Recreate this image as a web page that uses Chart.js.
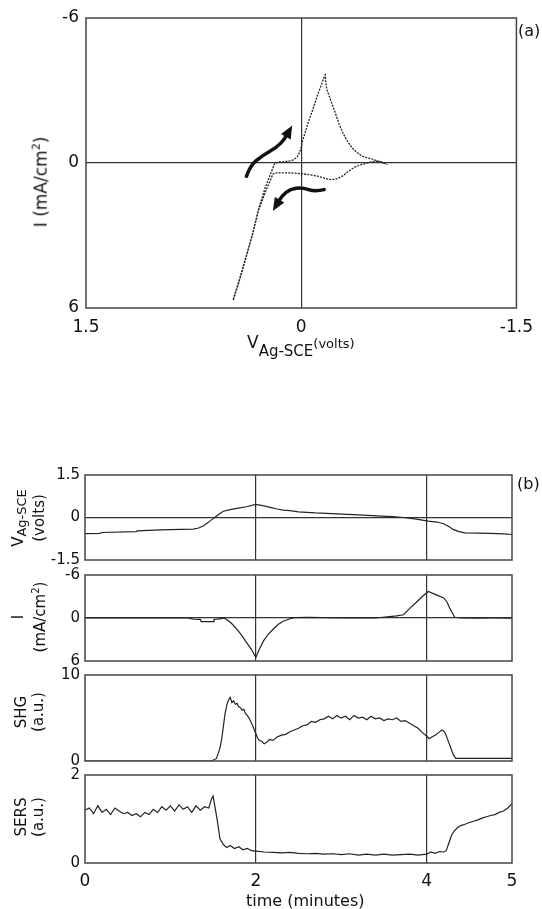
<!DOCTYPE html>
<html lang="en">
<head>
  <meta charset="UTF-8">
  <title>Cyclic voltammogram with SHG and SERS</title>
  <style>
    body {
      margin: 0;
      background: #fff;
      font-family: "DejaVu Sans", sans-serif;
      color: #111;
    }
    #page {
      position: relative;
      width: 542px;
      height: 909px;
      overflow: hidden;
    }
    canvas {
      position: absolute;
      left: 0;
    }
    .lbl {
      position: absolute;
      white-space: nowrap;
    }
    .rot {
      position: absolute;
      white-space: nowrap;
      text-align: center;
      transform: translate(-50%, -50%) rotate(-90deg);
    }
  </style>
</head>
<body>
  <div id="page">
    <canvas id="cv" width="542" height="372" style="top:0"></canvas>
    <canvas id="volt" width="542" height="113" style="top:461px"></canvas>
    <canvas id="curr" width="542" height="114" style="top:561px"></canvas>
    <canvas id="shg" width="542" height="114" style="top:661px"></canvas>
    <canvas id="sers" width="542" height="136" style="top:761px"></canvas>

    <div class="lbl" style="left:518px; top:21px; font-size:16px">(a)</div>
    <div class="rot" style="left:40px; top:182px; font-size:17px">I (mA/cm<sup style="font-size:11px">2</sup>)</div>
    <div class="lbl" style="left:247px; top:332px; font-size:17px">V<span style="font-size:15px; position:relative; top:8px">Ag-SCE</span><span style="font-size:13px">(volts)</span></div>

    <div class="lbl" style="left:517px; top:474px; font-size:16px">(b)</div>
    <div class="rot" style="left:28px; top:518px; font-size:15px; line-height:20px">V<span style="font-size:13px; position:relative; top:3px">Ag-SCE</span><br>(volts)</div>
    <div class="rot" style="left:29px; top:617px; font-size:15px; line-height:17px">I<br>(mA/cm<sup style="font-size:10px">2</sup>)</div>
    <div class="rot" style="left:30px; top:712px; font-size:15px; line-height:17px">SHG<br>(a.u.)</div>
    <div class="rot" style="left:30px; top:817px; font-size:15px; line-height:17px">SERS<br>(a.u.)</div>
    <div class="lbl" style="left:246px; top:891px; font-size:16px">time (minutes)</div>
  </div>

  <script src="https://cdn.jsdelivr.net/npm/chart.js"></script>
  <script>
    // (a) cyclic voltammogram, V vs Ag-SCE and current density
    const cvV = [0.475, 0.43, 0.389, 0.34, 0.297, 0.25, 0.21, 0.185, 0.158, 0.11, 0.065, 0.03, 0.01, 0, -0.009, -0.03, -0.05, -0.074, -0.1, -0.12, -0.145, -0.162, -0.168,
                 -0.17, -0.178, -0.205, -0.236, -0.265, -0.294, -0.322, -0.352, -0.385, -0.42, -0.455, -0.49, -0.525, -0.56, -0.575,
                 -0.545, -0.514, -0.47, -0.43, -0.41, -0.38, -0.352, -0.32, -0.294, -0.255, -0.213, -0.18, -0.144, -0.11, -0.074, -0.04, 0, 0.045, 0.088, 0.135, 0.181, 0.197,
                 0.25, 0.297, 0.34, 0.389, 0.43, 0.475];
    const cvI = [5.66, 4.8, 3.97, 2.95, 1.9, 1.0, 0.4, 0.02, -0.04, -0.06, -0.1, -0.23, -0.45, -0.65, -0.92, -1.3, -1.7, -2.1, -2.55, -2.92, -3.3, -3.61, -3.65,
                 -3.4, -3.06, -2.6, -2.1, -1.6, -1.2, -0.9, -0.65, -0.45, -0.3, -0.22, -0.17, -0.1, -0.05, 0,
                 -0.05, -0.08, -0.02, 0.05, 0.08, 0.15, 0.25, 0.38, 0.52, 0.64, 0.69, 0.66, 0.59, 0.54, 0.5, 0.47, 0.44, 0.42, 0.41, 0.41, 0.41, 0.46,
                 1.2, 1.95, 2.98, 4.0, 4.85, 5.7];
    const cvXTicks = [1.5, 0, -1.5];
    const cvYTicks = [-6, 0, 6];

    // sweep direction arrows (in V / I units)
    const arrowUpV = [0.382, 0.355, 0.273, 0.169, 0.116, 0.083];
    const arrowUpI = [0.55, 0.11, -0.3, -0.65, -0.99, -1.34];
    const arrowDownV = [-0.16, -0.097, -0.005, 0.076, 0.134, 0.176];
    const arrowDownI = [1.1, 1.19, 1.01, 1.08, 1.35, 1.77];

    // (b) time traces, time in minutes
    const timeTicks = [0, 2, 4, 5];

    const voltT = [0, 0.18, 0.19, 0.6, 0.61, 0.88, 1.0, 1.27, 1.33, 1.385, 1.44, 1.5, 1.56, 1.62, 1.7, 1.78, 1.89, 2.0, 2.08, 2.17, 2.25, 2.32, 2.4, 2.5, 2.7, 2.95, 3.2, 3.42, 3.6, 3.73, 3.88, 4.02, 4.12, 4.2, 4.26, 4.31, 4.38, 4.45, 4.6, 4.74, 4.9, 5.0];
    const voltV = [-0.57, -0.56, -0.53, -0.5, -0.47, -0.44, -0.43, -0.41, -0.37, -0.3, -0.18, -0.04, 0.1, 0.22, 0.28, 0.32, 0.38, 0.46, 0.42, 0.36, 0.3, 0.26, 0.24, 0.2, 0.16, 0.13, 0.09, 0.06, 0.03, 0.0, -0.06, -0.13, -0.16, -0.22, -0.32, -0.42, -0.5, -0.54, -0.55, -0.56, -0.58, -0.6];
    const voltTicks = [-1.5, 0, 1.5];

    const currT = [0, 0.3, 0.6, 0.9, 1.2, 1.27, 1.35, 1.36, 1.5, 1.51, 1.6, 1.62, 1.66, 1.72, 1.78, 1.84, 1.89, 1.95, 2.0, 2.04, 2.09, 2.15, 2.2, 2.26, 2.32, 2.4, 2.45, 2.6, 2.8, 3.0, 3.2, 3.4, 3.57, 3.65, 3.73, 3.8, 3.88, 3.95, 4.02, 4.1, 4.2, 4.24, 4.27, 4.33, 4.4, 4.6, 4.8, 5.0];
    const currI = [0, -0.05, 0, -0.03, 0, 0.15, 0.2, 0.5, 0.5, 0.2, 0.1, 0, 0.2, 0.8, 1.6, 2.5, 3.4, 4.4, 5.5, 4.4, 3.2, 2.2, 1.6, 0.9, 0.45, 0.1, -0.05, -0.1, -0.05, 0, -0.05, 0, -0.2, -0.3, -0.45, -1.3, -2.2, -3.0, -3.7, -3.3, -2.8, -2.2, -1.4, -0.1, 0, 0.03, 0, 0.02];
    const currTicks = [-6, 0, 6];

    const shgT = [0, 0.5, 1.0, 1.48, 1.54, 1.58, 1.6, 1.62, 1.64, 1.66, 1.68, 1.7, 1.72, 1.74, 1.76, 1.78, 1.8, 1.82, 1.84, 1.86, 1.88, 1.9, 1.92, 1.94, 1.96, 1.98, 2.0, 2.02, 2.04, 2.07, 2.1, 2.13, 2.16, 2.2, 2.25, 2.3, 2.35, 2.4, 2.45, 2.5, 2.55, 2.6, 2.65, 2.7, 2.75, 2.8, 2.85, 2.9, 2.95, 3.0, 3.05, 3.1, 3.15, 3.2, 3.25, 3.3, 3.35, 3.4, 3.45, 3.5, 3.55, 3.6, 3.65, 3.7, 3.75, 3.8, 3.85, 3.9, 3.95, 4.0, 4.03, 4.06, 4.1, 4.14, 4.18, 4.2, 4.22, 4.25, 4.28, 4.31, 4.34, 4.5, 4.75, 5.0];
    const shgS = [0, 0, 0, 0, 0.3, 1.5, 2.5, 4.0, 5.5, 6.5, 7.1, 7.4, 6.8, 7.0, 6.6, 6.7, 6.3, 6.2, 5.9, 6.0, 5.5, 5.3, 5.0, 4.6, 4.2, 3.7, 3.2, 2.7, 2.4, 2.3, 2.0, 2.2, 2.5, 2.4, 2.8, 3.0, 3.1, 3.4, 3.6, 3.8, 4.1, 4.2, 4.6, 4.5, 4.8, 4.9, 5.2, 4.9, 5.3, 5.0, 5.2, 4.8, 5.3, 5.0, 5.1, 4.8, 5.2, 4.9, 5.0, 4.7, 4.9, 4.8, 5.0, 4.6, 4.7, 4.4, 4.1, 3.8, 3.3, 2.9, 2.6, 2.8, 3.0, 3.3, 3.6, 3.5, 3.2, 2.4, 1.6, 0.8, 0.3, 0.3, 0.3, 0.3];
    const shgTicks = [0, 10];

    const sersT = [0, 0.05, 0.1, 0.15, 0.2, 0.25, 0.3, 0.35, 0.4, 0.45, 0.5, 0.55, 0.6, 0.65, 0.7, 0.75, 0.8, 0.85, 0.9, 0.95, 1.0, 1.05, 1.1, 1.15, 1.2, 1.25, 1.3, 1.35, 1.4, 1.45, 1.48, 1.5, 1.52, 1.55, 1.58, 1.62, 1.66, 1.7, 1.75, 1.8, 1.85, 1.9, 1.95, 2.0, 2.1, 2.2, 2.3, 2.4, 2.5, 2.6, 2.7, 2.8, 2.9, 3.0, 3.1, 3.2, 3.3, 3.4, 3.5, 3.6, 3.7, 3.8, 3.9, 4.0, 4.05, 4.1, 4.15, 4.2, 4.23, 4.26, 4.29, 4.32, 4.36, 4.4, 4.45, 4.5, 4.55, 4.6, 4.65, 4.7, 4.75, 4.8, 4.85, 4.9, 4.95, 5.0];
    const sersR = [1.2, 1.25, 1.12, 1.3, 1.15, 1.22, 1.1, 1.25, 1.18, 1.12, 1.15, 1.08, 1.12, 1.05, 1.15, 1.1, 1.22, 1.15, 1.28, 1.2, 1.3, 1.18, 1.32, 1.22, 1.28, 1.15, 1.3, 1.2, 1.28, 1.25, 1.45, 1.52, 1.3, 0.95, 0.55, 0.42, 0.35, 0.4, 0.33, 0.37, 0.3, 0.33, 0.28, 0.27, 0.25, 0.24, 0.23, 0.24, 0.22, 0.21, 0.22, 0.2, 0.21, 0.19, 0.21, 0.18, 0.2, 0.18, 0.2, 0.18, 0.19, 0.2, 0.18, 0.2, 0.25, 0.22, 0.26, 0.25, 0.28, 0.45, 0.62, 0.72, 0.8, 0.85, 0.88, 0.92, 0.95, 0.98, 1.02, 1.05, 1.08, 1.1, 1.15, 1.18, 1.25, 1.35];
    const sersTicks = [0, 2];

    const INK = '#222';
    const FONT = '"DejaVu Sans", sans-serif';

    // box round the plot area
    const framePlugin = {
      id: 'frame',
      afterDraw(chart) {
        const a = chart.chartArea;
        const ctx = chart.ctx;
        ctx.save();
        ctx.strokeStyle = '#444';
        ctx.lineWidth = 1.5;
        ctx.strokeRect(a.left, a.top, a.right - a.left, a.bottom - a.top);
        ctx.restore();
      }
    };

    // thick hand-drawn style arrows showing sweep direction
    const arrowPlugin = {
      id: 'sweepArrows',
      afterDatasetsDraw(chart) {
        const xs = chart.scales.x, ys = chart.scales.y;
        const ctx = chart.ctx;
        [[arrowUpV, arrowUpI], [arrowDownV, arrowDownI]].forEach(([vs, is]) => {
          const p = vs.map((v, i) => [xs.getPixelForValue(v), ys.getPixelForValue(is[i])]);
          ctx.save();
          ctx.strokeStyle = '#111';
          ctx.fillStyle = '#111';
          ctx.lineWidth = 3.5;
          ctx.lineCap = 'round';
          ctx.beginPath();
          ctx.moveTo(p[0][0], p[0][1]);
          for (let i = 1; i < p.length - 1; i++) {
            const mx = (p[i][0] + p[i + 1][0]) / 2, my = (p[i][1] + p[i + 1][1]) / 2;
            ctx.quadraticCurveTo(p[i][0], p[i][1], mx, my);
          }
          const a = p[p.length - 2], b = p[p.length - 1];
          ctx.lineTo(b[0], b[1]);
          ctx.stroke();
          const ang = Math.atan2(b[1] - a[1], b[0] - a[0]);
          ctx.translate(b[0], b[1]);
          ctx.rotate(ang);
          ctx.beginPath();
          ctx.moveTo(6, 0);
          ctx.lineTo(-7, -5.5);
          ctx.lineTo(-7, 5.5);
          ctx.closePath();
          ctx.fill();
          ctx.restore();
        });
      }
    };

    function zeroGrid(values) {
      return (c) => (c.tick && values.includes(c.tick.value)) ? '#333' : 'rgba(0,0,0,0)';
    }

    function pts(xs, ys) {
      return xs.map((x, i) => ({ x: x, y: ys[i] }));
    }

    // panel (a)
    new Chart(document.getElementById('cv'), {
      type: 'scatter',
      data: {
        datasets: [{
          data: pts(cvV, cvI),
          showLine: true,
          borderColor: INK,
          borderWidth: 1.3,
          borderDash: [2, 1.2],
          pointRadius: 0,
          tension: 0
        }]
      },
      options: {
        responsive: false,
        animation: false,
        layout: { padding: { top: 18, right: 25, left: 0, bottom: 0 } },
        plugins: { legend: { display: false }, tooltip: { enabled: false } },
        scales: {
          x: {
            type: 'linear', min: -1.5, max: 1.5, reverse: true,
            afterBuildTicks: (s) => { s.ticks = cvXTicks.map(v => ({ value: v })); },
            afterFit: (s) => { s.height = 64; },
            grid: { color: zeroGrid([0]), lineWidth: 1.2, drawTicks: false },
            border: { display: false },
            ticks: { color: '#111', padding: 9, font: { family: FONT, size: 17 }, maxRotation: 0, callback: v => String(v) }
          },
          y: {
            type: 'linear', min: -6, max: 6, reverse: true,
            afterBuildTicks: (s) => { s.ticks = cvYTicks.map(v => ({ value: v })); },
            afterFit: (s) => { s.width = 86; },
            grid: { color: zeroGrid([0]), lineWidth: 1.2, drawTicks: false },
            border: { display: false },
            ticks: { color: '#111', padding: 7, font: { family: FONT, size: 17 }, callback: v => String(v) }
          }
        }
      },
      plugins: [framePlugin, arrowPlugin]
    });

    // panel (b) strips
    function strip(id, t, y, yMin, yMax, yTicks, yRev, lastStrip) {
      const bottomSpace = lastStrip ? 34 : 12;
      return new Chart(document.getElementById(id), {
        type: 'scatter',
        data: {
          datasets: [{
            data: pts(t, y),
            showLine: true,
            borderColor: INK,
            borderWidth: 1.2,
            pointRadius: 0,
            tension: 0
          }]
        },
        options: {
          responsive: false,
          animation: false,
          layout: { padding: { top: 12, right: 30, left: 0, bottom: 0 } },
          plugins: { legend: { display: false }, tooltip: { enabled: false } },
          scales: {
            x: {
              type: 'linear', min: 0, max: 5,
              afterBuildTicks: (s) => { s.ticks = timeTicks.map(v => ({ value: v })); },
              afterFit: (s) => { s.height = bottomSpace; },
              grid: { color: zeroGrid([2, 4]), lineWidth: 1.2, drawTicks: false },
              border: { display: false },
              ticks: { display: lastStrip, color: '#111', padding: 8, font: { family: FONT, size: 17 }, maxRotation: 0 }
            },
            y: {
              type: 'linear', min: yMin, max: yMax, reverse: yRev,
              afterBuildTicks: (s) => { s.ticks = yTicks.map(v => ({ value: v })); },
              afterFit: (s) => { s.width = 85; },
              grid: { color: zeroGrid(yMin < 0 ? [0] : []), lineWidth: 1.2, drawTicks: false },
              border: { display: false },
              ticks: { color: '#111', padding: 5, font: { family: FONT, size: 15 }, callback: v => String(v) }
            }
          }
        },
        plugins: [framePlugin]
      });
    }

    strip('volt', voltT, voltV, -1.5, 1.5, voltTicks, false, false);
    strip('curr', currT, currI, -6, 6, currTicks, true, false);
    strip('shg', shgT, shgS, 0, 10, shgTicks, false, false);
    strip('sers', sersT, sersR, 0, 2, sersTicks, false, true);
  </script>
</body>
</html>
